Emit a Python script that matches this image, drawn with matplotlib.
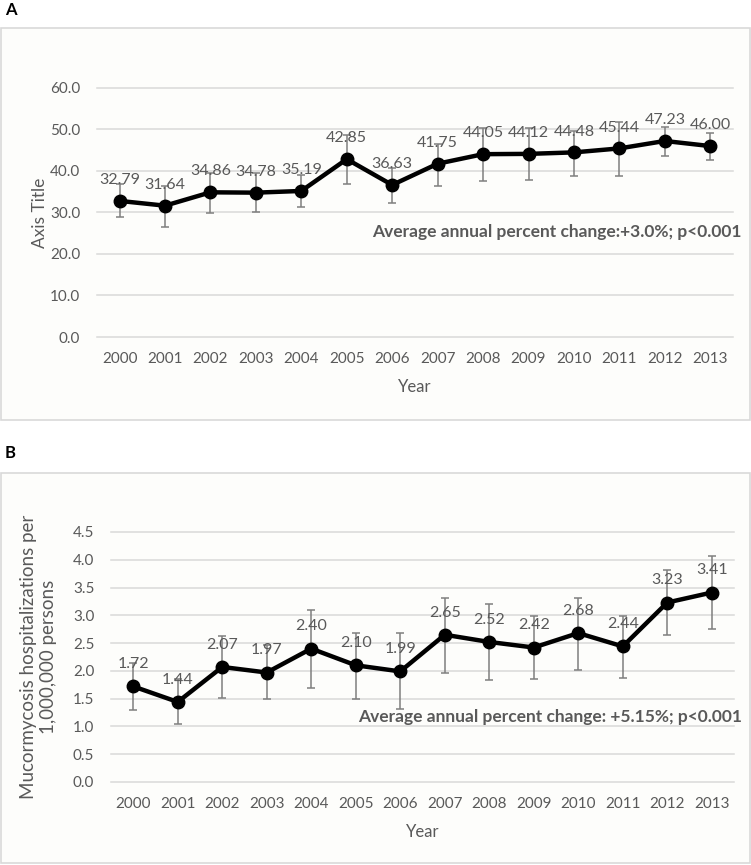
import matplotlib
matplotlib.use("Agg")
import matplotlib.pyplot as plt
from matplotlib.patches import Rectangle

plt.rcParams['font.family'] = ['Lato', 'DejaVu Sans']

years = ['2000', '2001', '2002', '2003', '2004', '2005', '2006',
         '2007', '2008', '2009', '2010', '2011', '2012', '2013']

rate_a = [32.79, 31.64, 34.86, 34.78, 35.19, 42.85, 36.63,
          41.75, 44.05, 44.12, 44.48, 45.44, 47.23, 46.00]
upper_a = [36.9, 36.4, 39.6, 39.6, 39.0, 48.7, 40.8,
           46.5, 50.4, 50.4, 49.6, 51.8, 50.6, 49.2]
lower_a = [28.8, 26.6, 29.8, 30.0, 31.3, 36.9, 32.4,
           36.5, 37.6, 37.8, 38.9, 38.9, 43.7, 42.7]

rate_b = [1.72, 1.44, 2.07, 1.97, 2.40, 2.10, 1.99,
          2.65, 2.52, 2.42, 2.68, 2.44, 3.23, 3.41]
upper_b = [2.15, 1.86, 2.62, 2.47, 3.09, 2.69, 2.69,
           3.32, 3.20, 2.98, 3.32, 2.99, 3.81, 4.06]
lower_b = [1.29, 1.04, 1.51, 1.49, 1.70, 1.50, 1.31,
           1.97, 1.84, 1.85, 2.02, 1.88, 2.65, 2.76]

txt = '#595959'
grid = '#d9d9d9'
bg = '#fdfdfb'

fig = plt.figure(figsize=(7.51, 8.65), dpi=100)
fig.patch.set_facecolor('white')

# panel frames
for (y0, h) in [(0.5145, 0.453), (0.0023, 0.4509)]:
    fig.patches.append(Rectangle((0.0013, y0), 0.9974, h, transform=fig.transFigure,
                                 facecolor=bg, edgecolor='#d9d9d9', lw=1.2, zorder=-5))

fig.text(0.007, 0.988, 'A', fontsize=12, fontweight='bold', va='center', ha='left')
fig.text(0.006, 0.476, 'B', fontsize=12, fontweight='bold', va='center', ha='left')


def panel(ax, vals, lo, hi, ymax, step, fmt, ylabel, note, note_y, lab_off, ylab_size):
    x = list(range(len(years)))
    ax.set_facecolor('none')
    err = [[v - l for v, l in zip(vals, lo)], [h - v for v, h in zip(vals, hi)]]
    ax.errorbar(x, vals, yerr=err, fmt='none', ecolor='#7f7f7f', elinewidth=1.1,
                capsize=3, capthick=1.1, zorder=2)
    ax.plot(x, vals, color='black', lw=3.2, marker='o', ms=9, zorder=3)
    for xi, v in zip(x, vals):
        ax.annotate('%.2f' % v, (xi, v), xytext=(0, lab_off), textcoords='offset points',
                    ha='center', va='center', fontsize=11.5, color=txt, zorder=4)
    ax.set_xlim(-0.5, len(years) - 0.5)
    ax.set_ylim(0, ymax)
    ticks = [i * step for i in range(int(round(ymax / step)) + 1)]
    ax.set_yticks(ticks)
    ax.set_yticklabels([fmt % t for t in ticks])
    ax.set_xticks(x)
    ax.set_xticklabels(years)
    for t in ticks:
        ax.axhline(t, color=grid, lw=1.1, zorder=1, clip_on=False)
    for s in ax.spines.values():
        s.set_visible(False)
    ax.tick_params(length=0, labelsize=11, colors=txt)
    ax.tick_params(axis='y', pad=12)
    ax.tick_params(axis='x', pad=11)
    ax.set_xlabel('Year', fontsize=12, color=txt, labelpad=9)
    ax.set_ylabel(ylabel, fontsize=ylab_size, color=txt, linespacing=1.25)
    ax.text(1.013, note_y, note, transform=ax.transAxes, ha='right', va='center',
            fontsize=12.5, fontweight='bold', color=txt)


ax1 = fig.add_axes([0.129, 0.6104, 0.847, 0.2879])
panel(ax1, rate_a, lower_a, upper_a, 60, 10, '%.1f', 'Axis Title',
      'Average annual percent change:+3.0%; p<0.001', 0.42, 15, 12.5)
ax1.yaxis.set_label_coords(-0.077, 0.5)

ax2 = fig.add_axes([0.1478, 0.0960, 0.8296, 0.289])
panel(ax2, rate_b, lower_b, upper_b, 4.5, 0.5, '%.1f',
      'Mucormycosis hospitalizations per\n1,000,000 persons',
      'Average annual percent change: +5.15%; p<0.001', 0.26, 16, 13.5)
ax2.yaxis.set_label_coords(-0.086, 0.5)

fig.savefig('out.png', dpi=100, facecolor=fig.get_facecolor())
